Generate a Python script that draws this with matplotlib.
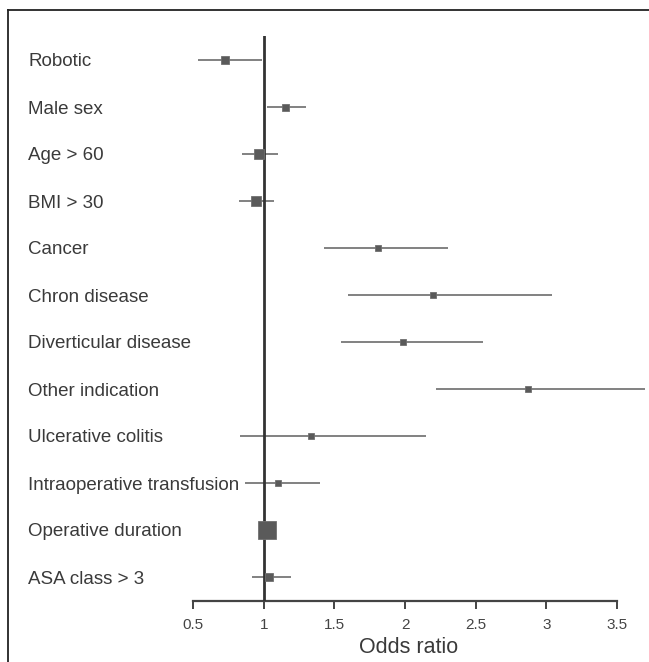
import numpy as np
import matplotlib
matplotlib.use("Agg")
import matplotlib.pyplot as plt
from matplotlib.lines import Line2D

plt.rcParams['font.family'] = ['Liberation Sans', 'DejaVu Sans']

labels = ['Robotic', 'Male sex', 'Age > 60', 'BMI > 30', 'Cancer', 'Chron disease',
          'Diverticular disease', 'Other indication', 'Ulcerative colitis',
          'Intraoperative transfusion', 'Operative duration', 'ASA class > 3']
odds = [0.724, 1.149, 0.965, 0.943, 1.81, 2.195, 1.983, 2.867, 1.332, 1.10, 1.02, 1.04]
ci_low = [0.533, 1.02, 0.85, 0.823, 1.43, 1.594, 1.545, 2.22, 0.83, 0.866, 1.00, 0.915]
ci_high = [0.986, 1.30, 1.10, 1.07, 2.30, 3.04, 2.55, 3.70, 2.15, 1.40, 1.04, 1.19]
box_px = [7.5, 7, 9.7, 9.3, 5.5, 5.5, 5.7, 5.3, 5.3, 6.2, 18, 7.7]
ticks = [0.5, 1, 1.5, 2, 2.5, 3, 3.5]

W, H = 649, 662
fig = plt.figure(figsize=(W / 100, H / 100), dpi=100)
ax = fig.add_axes([193 / W, 1 - 601 / H, (W - 193) / W, (601 - 36) / H])

ypos = np.arange(len(labels))
for y, o, lo, hi, s in zip(ypos, odds, ci_low, ci_high, box_px):
    ax.plot([lo, hi], [y, y], color='#777777', lw=1.3, zorder=2, solid_capstyle='butt')
    ax.plot(o, y, marker='s', ms=s * 0.72, color='#5a5a5a', mec='#707070', mew=0.6,
            zorder=4, linestyle='none')

ax.axvline(1, color='#333333', lw=2.0, zorder=3)

ax.set_xlim(0.5, 3.725)
ax.set_ylim(len(labels) - 0.5, -0.51)
for side in ['top', 'right', 'left']:
    ax.spines[side].set_visible(False)
ax.spines['bottom'].set_color('#444444')
ax.spines['bottom'].set_linewidth(1.6)
ax.spines['bottom'].set_bounds(0.5, 3.5)
ax.set_yticks([])
ax.set_xticks(ticks)
ax.set_xticklabels(['0.5', '1', '1.5', '2', '2.5', '3', '3.5'])
ax.tick_params(axis='x', direction='out', length=6, width=1.4, color='#444444',
               labelsize=11, labelcolor='#444444', pad=6)

for y, lab in zip(ypos, labels):
    ypix = 60 + 47 * y
    fig.text(28 / W, 1 - ypix / H, lab, ha='left', va='center_baseline', fontsize=13.5,
             color='#3a3a3a')

fig.text(409 / W, 1 - 645 / H, 'Odds ratio', ha='center', va='center_baseline',
         fontsize=15.5, color='#3a3a3a')

# outer frame (left and top edges visible)
fig.add_artist(Line2D([8 / W, 8 / W], [0, 1 - 10 / H], transform=fig.transFigure,
                      color='#222222', lw=1.3))
fig.add_artist(Line2D([8 / W, 1], [1 - 10 / H, 1 - 10 / H], transform=fig.transFigure,
                      color='#222222', lw=1.3))

fig.savefig('out.png', dpi=100, facecolor='white')
